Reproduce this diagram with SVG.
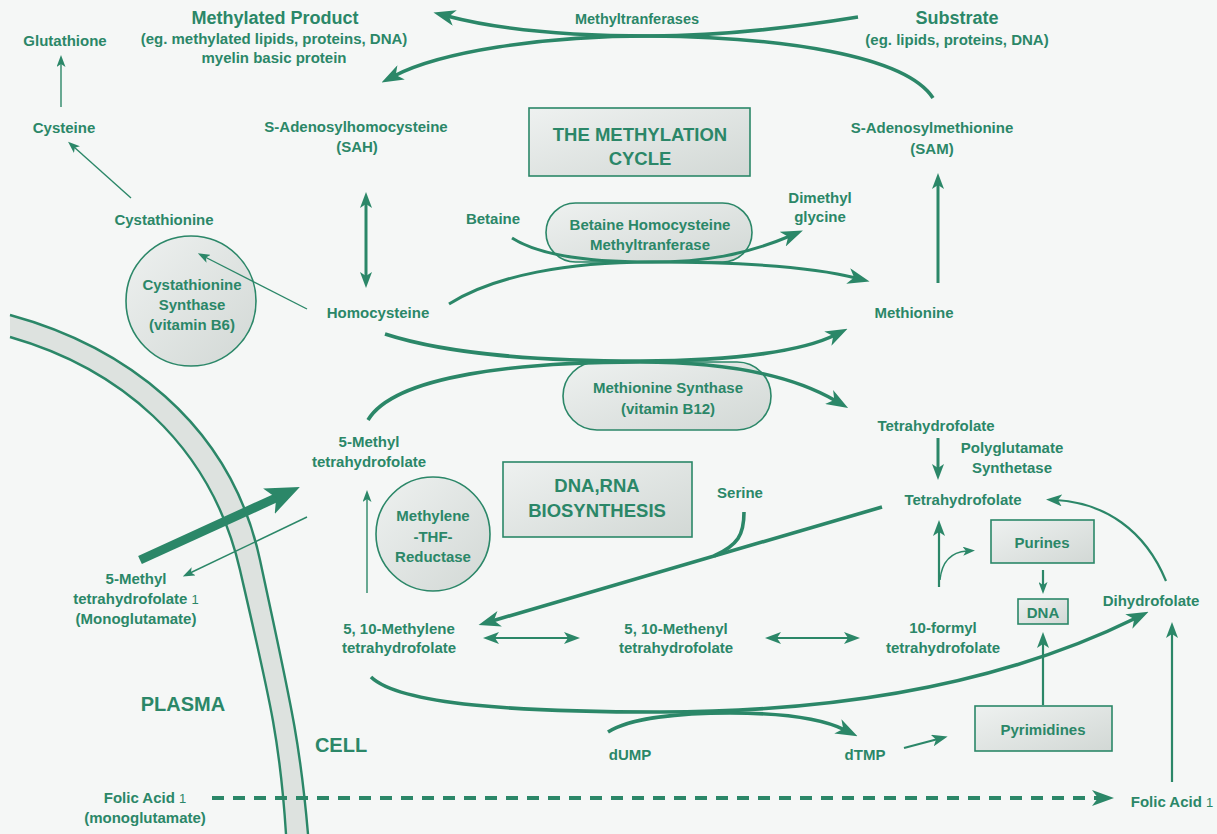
<svg xmlns="http://www.w3.org/2000/svg" width="1217" height="834" viewBox="0 0 1217 834">
<defs>
<style>
text{font-family:"Liberation Sans",Arial,sans-serif;font-weight:bold;fill:#2b8768;text-anchor:middle}
.t{font-size:15px}
.tl{font-size:18px}
.th{font-size:18.5px}
.tp{font-size:20px}
.ts{font-size:14.5px}
.fn{font-weight:normal;font-size:13px}
.c{fill:none;stroke:#2b8768;stroke-linecap:butt}
.w1{stroke-width:1.4}
.w2{stroke-width:2.2}
.w3{stroke-width:3}
.w4{stroke-width:3.6}
.box{fill:url(#shade);stroke:#2b8768;stroke-width:1.6}
.mem{fill:none;stroke:#2b8768;stroke-width:2.4}
</style>
<linearGradient id="shade" x1="0" y1="0" x2="1" y2="1">
<stop offset="0" stop-color="#eef1f0"/>
<stop offset="1" stop-color="#d2d8d5"/>
</linearGradient>
<marker id="big" markerUnits="userSpaceOnUse" markerWidth="22" markerHeight="16" viewBox="0 0 22 16" refX="8" refY="8" orient="auto-start-reverse"><path d="M0,0 L22,8 L0,16 L6,8 z" fill="#2b8768"/></marker>
<marker id="med" markerUnits="userSpaceOnUse" markerWidth="16" markerHeight="12" viewBox="0 0 16 12" refX="6" refY="6" orient="auto-start-reverse"><path d="M0,0 L16,6 L0,12 L4,6 z" fill="#2b8768"/></marker>
<marker id="sm" markerUnits="userSpaceOnUse" markerWidth="12" markerHeight="9" viewBox="0 0 12 9" refX="4" refY="4.5" orient="auto-start-reverse"><path d="M0,0 L12,4.5 L0,9 L3,4.5 z" fill="#2b8768"/></marker>
<marker id="huge" markerUnits="userSpaceOnUse" markerWidth="34" markerHeight="28" viewBox="0 0 34 28" refX="10" refY="14" orient="auto"><path d="M0,0 L34,14 L0,28 L8,14 z" fill="#2b8768"/></marker>
</defs>
<rect width="1217" height="834" fill="#f5f7f6"/>

<g id="membrane">
<path d="M10 315 C120 345 230 420 260 560 C290 700 300 740 308 834 L286 834 C280 740 270 700 240 570 C210 440 115 367 10 337 Z" fill="#dde2df"/>
<path class="mem" d="M10 315 C120 345 230 420 260 560 C290 700 300 740 308 834"/>
<path class="mem" d="M10 337 C115 367 210 440 240 570 C270 700 280 740 286 834"/>
</g>

<g id="methylated-product"><text class="tl" x="275" y="24">Methylated Product</text><text class="t" x="274" y="44">(eg. methylated lipids, proteins, DNA)</text><text class="t" x="274" y="63">myelin basic protein</text></g>
<g id="glutathione"><text class="t" x="65" y="46">Glutathione</text></g>
<g id="cysteine"><text class="t" x="64" y="133">Cysteine</text></g>
<g id="methyltransferases"><text class="ts" x="637" y="24">Methyltranferases</text></g>
<g id="substrate"><text class="tl" x="957" y="24">Substrate</text><text class="t" x="957" y="45">(eg. lipids, proteins, DNA)</text></g>
<g id="sah"><text class="t" x="356" y="132">S-Adenosylhomocysteine</text><text class="t" x="357" y="152">(SAH)</text></g>
<g id="methylation-cycle"><rect class="box" x="529" y="108" width="221" height="68"/><text class="th" x="640" y="141">THE METHYLATION</text><text class="th" x="640" y="165">CYCLE</text></g>
<g id="sam"><text class="t" x="932" y="133">S-Adenosylmethionine</text><text class="t" x="932" y="154">(SAM)</text></g>
<g id="cystathionine"><text class="t" x="164" y="225">Cystathionine</text></g>
<g id="cystathionine-synthase"><circle class="box" cx="191" cy="301" r="65"/><text class="t" x="192" y="290">Cystathionine</text><text class="t" x="192" y="310">Synthase</text><text class="t" x="192" y="330">(vitamin B6)</text></g>
<g id="homocysteine"><text class="t" x="378" y="318">Homocysteine</text></g>
<g id="betaine"><text class="t" x="493" y="224">Betaine</text></g>
<g id="bhmt"><rect class="box" x="546" y="203" width="206" height="59" rx="29.5"/><text class="t" x="650" y="230">Betaine Homocysteine</text><text class="t" x="650" y="250">Methyltranferase</text></g>
<g id="dimethylglycine"><text class="t" x="820" y="203">Dimethyl</text><text class="t" x="820" y="222">glycine</text></g>
<g id="methionine"><text class="t" x="914" y="318">Methionine</text></g>
<g id="methionine-synthase"><rect class="box" x="563" y="362" width="208" height="68" rx="34"/><text class="t" x="668" y="393">Methionine Synthase</text><text class="t" x="668" y="414">(vitamin B12)</text></g>
<g id="thf-top"><text class="t" x="936" y="431">Tetrahydrofolate</text></g>
<g id="polyglutamate"><text class="t" x="1012" y="453">Polyglutamate</text><text class="t" x="1012" y="473">Synthetase</text></g>
<g id="thf"><text class="t" x="963" y="505">Tetrahydrofolate</text></g>
<g id="methyl-thf"><text class="t" x="369" y="447">5-Methyl</text><text class="t" x="369" y="467">tetrahydrofolate</text></g>
<g id="dna-rna"><rect class="box" x="503" y="462" width="189" height="75"/><text class="th" x="597" y="492">DNA,RNA</text><text class="th" x="597" y="517">BIOSYNTHESIS</text></g>
<g id="mthfr"><circle class="box" cx="433" cy="534" r="57"/><text class="t" x="433" y="521">Methylene</text><text class="t" x="433" y="542">-THF-</text><text class="t" x="433" y="562">Reductase</text></g>
<g id="serine"><text class="t" x="740" y="498">Serine</text></g>
<g id="methylene-thf"><text class="t" x="399" y="634">5, 10-Methylene</text><text class="t" x="399" y="653">tetrahydrofolate</text></g>
<g id="methenyl-thf"><text class="t" x="676" y="634">5, 10-Methenyl</text><text class="t" x="676" y="653">tetrahydrofolate</text></g>
<g id="formyl-thf"><text class="t" x="943" y="633">10-formyl</text><text class="t" x="943" y="653">tetrahydrofolate</text></g>
<g id="purines"><rect class="box" x="991" y="520" width="103" height="43"/><text class="t" x="1042" y="548">Purines</text></g>
<g id="dna"><rect class="box" x="1018" y="599" width="50" height="25"/><text class="t" x="1043" y="618">DNA</text></g>
<g id="dihydrofolate"><text class="t" x="1151" y="606">Dihydrofolate</text></g>
<g id="pyrimidines"><rect class="box" x="975" y="706" width="137" height="45"/><text class="t" x="1043" y="735">Pyrimidines</text></g>
<g id="dump"><text class="t" x="630" y="760">dUMP</text></g>
<g id="dtmp"><text class="t" x="865" y="760">dTMP</text></g>
<g id="plasma"><text class="tp" x="183" y="711">PLASMA</text></g>
<g id="cell"><text class="tp" x="341" y="752">CELL</text></g>
<g id="methyl-thf-plasma"><text class="t" x="136" y="584">5-Methyl</text><text class="t" x="136" y="604">tetrahydrofolate <tspan class="fn">1</tspan></text><text class="t" x="136" y="624">(Monoglutamate)</text></g>
<g id="folic-plasma"><text class="t" x="145" y="803">Folic Acid <tspan class="fn">1</tspan></text><text class="t" x="145" y="823">(monoglutamate)</text></g>
<g id="folic-cell"><text class="t" x="1172" y="807">Folic Acid <tspan class="fn">1</tspan></text></g>

<g id="connectors">
<path class="c w1" d="M61 107 L61 63" marker-end="url(#sm)"/>
<path class="c w1" d="M131 198 L74 147" marker-end="url(#sm)"/>
<path class="c w4" d="M858 17 C790 28 720 36 650 36 C570 36 500 30 447 16" marker-end="url(#big)"/>
<path class="c w4" d="M933 98 C905 55 780 37 650 36 C540 36 440 52 394 76" marker-end="url(#big)"/>
<path class="c w3" d="M938 283 L938 183" marker-end="url(#med)"/>
<path class="c w3" d="M366 202 L366 278" marker-start="url(#med)" marker-end="url(#med)"/>
<path class="c w1" d="M307 309 L205 257" marker-end="url(#sm)"/>
<path class="c w3" d="M512 238 C540 256 590 262 650 262 C705 262 745 255 790 236" marker-end="url(#big)"/>
<path class="c w3" d="M449 304 C495 275 570 262 650 262 C740 262 810 266 856 278" marker-end="url(#big)"/>
<path class="c w4" d="M385 334 C450 355 540 361 640 361 C740 361 805 350 835 335" marker-end="url(#big)"/>
<path class="c w4" d="M368 420 C395 375 520 362 640 362 C740 362 800 380 836 401" marker-end="url(#big)"/>
<path class="c w3" d="M938 438 L938 470" marker-end="url(#med)"/>
<path class="c w4" d="M882 507 L492 621" marker-end="url(#big)"/>
<path class="c w4" d="M744 512 C744 535 738 545 714 556"/>
<path class="c w1" d="M367 593 L367 498" marker-end="url(#sm)"/>
<path class="c w2" d="M493 638 L570 638" marker-start="url(#med)" marker-end="url(#med)"/>
<path class="c w2" d="M775 638 L850 638" marker-start="url(#med)" marker-end="url(#med)"/>
<path class="c w2" d="M939 587 L939 530" marker-end="url(#med)"/>
<path class="c w1" d="M940 580 C942 560 952 552 967 551" marker-end="url(#sm)"/>
<path class="c w2" d="M1043 570 L1043 586" marker-end="url(#sm)"/>
<path class="c w2" d="M1043 705 L1043 642" marker-end="url(#med)"/>
<path class="c w2" d="M1166 581 C1145 530 1105 503 1056 500" marker-end="url(#med)"/>
<path class="c w2" d="M1172 782 L1172 632" marker-end="url(#med)"/>
<path class="c w4" d="M371 677 C400 705 520 712 660 712 C850 712 1010 680 1136 618" marker-end="url(#big)"/>
<path class="c w4" d="M608 732 C630 718 680 713 730 713 C790 713 825 720 845 730" marker-end="url(#big)"/>
<path class="c w2" d="M904 748 L938 739" marker-end="url(#med)"/>
<path class="c" style="stroke-width:4" stroke-dasharray="12 9" d="M212 798 L1100 798" marker-end="url(#big)"/>
<path class="c" style="stroke-width:9" d="M140 560 L278 497" marker-end="url(#huge)"/>
<path class="c w1" d="M307 517 L190 573" marker-end="url(#sm)"/>
</g>
</svg>
